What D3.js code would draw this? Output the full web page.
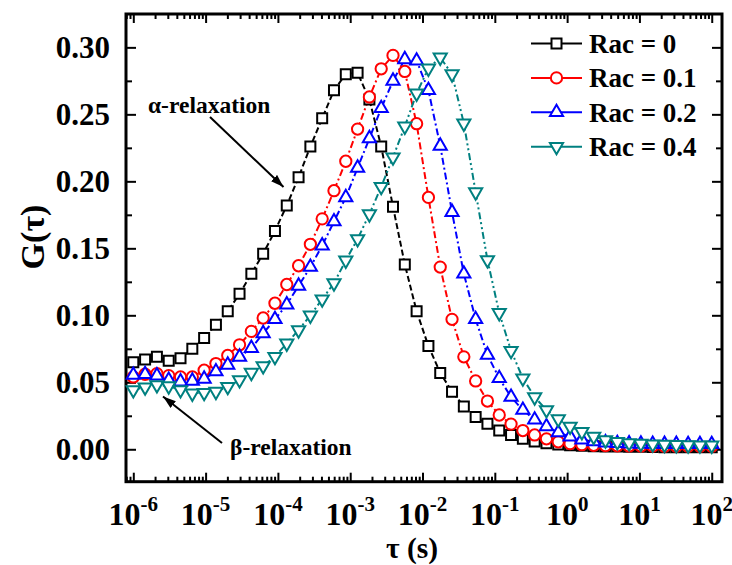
<!DOCTYPE html>
<html>
<head>
<meta charset="utf-8">
<script src="https://cdn.jsdelivr.net/npm/d3@7"></script>
<style>
  html, body { margin: 0; padding: 0; background: #fff; }
  svg { display: block; }
  text { font-family: "Liberation Serif", "Times New Roman", serif; font-weight: bold; fill: #000; }
</style>
</head>
<body>
<svg id="chart" width="732" height="565"></svg>
<script>
// ---------------- data ----------------
const tau = [1.000e-6, 1.456e-6, 2.121e-6, 3.089e-6, 4.498e-6, 6.551e-6, 9.541e-6, 1.389e-5, 2.024e-5, 2.947e-5,
             4.292e-5, 6.251e-5, 9.103e-5, 1.326e-4, 1.931e-4, 2.812e-4, 4.095e-4, 5.964e-4, 8.685e-4, 1.265e-3,
             1.842e-3, 2.683e-3, 3.907e-3, 5.690e-3, 8.286e-3, 1.207e-2, 1.758e-2, 2.560e-2, 3.728e-2, 5.429e-2,
             7.906e-2, 1.151e-1, 1.677e-1, 2.442e-1, 3.556e-1, 5.179e-1, 7.543e-1, 1.099, 1.600, 2.330,
             3.393, 4.942, 7.197, 10.48, 15.26, 22.23, 32.37, 47.15, 68.66, 100];

const gRac0 = [0.065, 0.067, 0.069, 0.066, 0.068, 0.075, 0.083, 0.093, 0.103, 0.116,
               0.131, 0.146, 0.163, 0.182, 0.203, 0.226, 0.247, 0.268, 0.280, 0.281,
               0.261, 0.226, 0.181, 0.138, 0.103, 0.077, 0.057, 0.043, 0.032, 0.024,
               0.019, 0.014, 0.0107, 0.0078, 0.0058, 0.0045, 0.0036, 0.003, 0.0026, 0.0023,
               0.0021, 0.002, 0.0019, 0.0018, 0.0017, 0.0016, 0.0016, 0.0015, 0.0015, 0.0015];

const gRac01 = [0.054, 0.056, 0.0565, 0.055, 0.054, 0.054, 0.059, 0.064, 0.070, 0.078,
                0.088, 0.098, 0.109, 0.123, 0.137, 0.153, 0.172, 0.193, 0.215, 0.239,
                0.263, 0.284, 0.294, 0.282, 0.243, 0.188, 0.136, 0.097, 0.069, 0.051,
                0.036, 0.0256, 0.0188, 0.014, 0.0107, 0.0078, 0.0056, 0.0042, 0.0034, 0.003,
                0.0027, 0.0026, 0.0025, 0.0024, 0.0024, 0.0023, 0.0023, 0.0023, 0.0022, 0.0022];

const gRac02 = [0.0554, 0.056, 0.055, 0.0517, 0.0505, 0.051, 0.0525, 0.058, 0.063, 0.069,
                0.0755, 0.0865, 0.097, 0.108, 0.122, 0.136, 0.152, 0.170, 0.188, 0.210,
                0.232, 0.2545, 0.275, 0.291, 0.290, 0.268, 0.2265, 0.177, 0.131, 0.097,
                0.0704, 0.053, 0.039, 0.0293, 0.022, 0.017, 0.0125, 0.0094, 0.0072, 0.0058,
                0.005, 0.0045, 0.0042, 0.004, 0.0039, 0.0038, 0.0038, 0.0037, 0.0037, 0.0037];

const gRac04 = [0.0443, 0.0463, 0.048, 0.0472, 0.0443, 0.0418, 0.0422, 0.043, 0.0467, 0.0517,
                0.0572, 0.0622, 0.0691, 0.0791, 0.089, 0.100, 0.112, 0.124, 0.141, 0.157,
                0.1755, 0.196, 0.218, 0.241, 0.2657, 0.2843, 0.2925, 0.280, 0.2433, 0.192,
                0.1413, 0.1018, 0.0736, 0.053, 0.039, 0.0293, 0.0225, 0.017, 0.013, 0.0095,
                0.0068, 0.0055, 0.0047, 0.0042, 0.0038, 0.0035, 0.0033, 0.0031, 0.003, 0.0029];

const seriesNames = ["Rac = 0", "Rac = 0.1", "Rac = 0.2", "Rac = 0.4"];
const yTicks = [0.00, 0.05, 0.10, 0.15, 0.20, 0.25, 0.30];
const yMinorTicks = [0.025, 0.075, 0.125, 0.175, 0.225, 0.275];
const xTickExponents = [-6, -5, -4, -3, -2, -1, 0, 1, 2];

// ---------------- layout ----------------
const W = 732, H = 565;
const L = 126, R = 722, T = 14, B = 481.7;

const svg = d3.select("#chart");
svg.append("rect").attr("width", W).attr("height", H).attr("fill", "#fff");

const x = d3.scaleLog().domain([Math.pow(10, -6.101), Math.pow(10, 2.142)]).range([L, R]);
const y = d3.scaleLinear().domain([-0.0242, 0.3249]).range([B, T]);

const styles = [
  { color: "#000000", dash: "6,3", symbol: d3.symbolSquare, size: 100, rot: 0 },
  { color: "#ff0000", dash: "7,3,2,3", symbol: d3.symbolCircle, size: 100, rot: 0 },
  { color: "#0000ff", dash: "7,3,2,3", symbol: d3.symbolTriangle, size: 75, rot: 0 },
  { color: "#008080", dash: "7,3,2,3,2,3", symbol: d3.symbolTriangle, size: 75, rot: 180 }
];
const allSeries = [gRac0, gRac01, gRac02, gRac04];

// ---------------- axes ----------------
const majorX = xTickExponents.map(e => Math.pow(10, e));
const minorX = [];
for (let k = -7; k <= 2; k++) {
  for (let m = 2; m <= 9; m++) {
    const v = m * Math.pow(10, k);
    if (v >= x.domain()[0] && v <= x.domain()[1]) minorX.push(v);
  }
}

function drawAxis(gen, tx, ty, vals, size) {
  const g = svg.append("g").attr("transform", `translate(${tx},${ty})`)
    .call(gen.tickValues(vals).tickSizeInner(size).tickSizeOuter(0).tickFormat(""));
  g.select(".domain").remove();
  g.selectAll(".tick line").attr("stroke", "#000").attr("stroke-width", 2);
  return g;
}
drawAxis(d3.axisBottom(x), 0, B, majorX, -9);
drawAxis(d3.axisBottom(x), 0, B, minorX, -5);
drawAxis(d3.axisTop(x), 0, T, majorX, -9);
drawAxis(d3.axisTop(x), 0, T, minorX, -5);
drawAxis(d3.axisLeft(y), L, 0, yTicks, -10);
drawAxis(d3.axisLeft(y), L, 0, yMinorTicks, -6);
drawAxis(d3.axisRight(y), R, 0, yTicks, -10);
drawAxis(d3.axisRight(y), R, 0, yMinorTicks, -6);

// y tick labels
const yl = svg.append("g").attr("transform", `translate(${L},0)`)
  .call(d3.axisLeft(y).tickValues(yTicks).tickSize(0).tickPadding(16).tickFormat(d3.format(".2f")));
yl.select(".domain").remove();
yl.selectAll("text").attr("font-size", 31).attr("font-family", null).attr("fill", "#000")
  .style("font-family", "'Liberation Serif','Times New Roman',serif").style("font-weight", "bold");

// x tick labels (10^n)
const xl = svg.append("g");
xTickExponents.forEach(e => {
  const t = xl.append("text").attr("x", x(Math.pow(10, e))).attr("y", 524.5)
    .attr("text-anchor", "middle").attr("font-size", 32);
  t.append("tspan").text("10");
  t.append("tspan").attr("dy", -14).attr("font-size", 21).text(e < 0 ? "-" + Math.abs(e) : String(e));
});

// frame
svg.append("rect").attr("x", L).attr("y", T).attr("width", R - L).attr("height", B - T)
  .attr("fill", "none").attr("stroke", "#000").attr("stroke-width", 3);

// ---------------- data ----------------
const plot = svg.append("g");
allSeries.forEach((vals, si) => {
  const st = styles[si];
  const pts = tau.map((t, i) => [t, vals[i]]);
  const line = d3.line().x(d => x(d[0])).y(d => y(d[1]));
  plot.append("path").attr("d", line(pts)).attr("fill", "none")
    .attr("stroke", st.color).attr("stroke-width", 2).attr("stroke-dasharray", st.dash);
});
allSeries.forEach((vals, si) => {
  const st = styles[si];
  const sym = d3.symbol().type(st.symbol).size(st.size);
  plot.append("g").selectAll("path").data(tau.map((t, i) => [t, vals[i]])).join("path")
    .attr("d", sym)
    .attr("transform", d => `translate(${x(d[0])},${y(d[1])}) rotate(${st.rot})`)
    .attr("fill", "#fff").attr("stroke", st.color).attr("stroke-width", 2);
});

// ---------------- legend ----------------
const leg = svg.append("g");
seriesNames.forEach((name, i) => {
  const st = styles[i];
  const yy = 43.5 + i * 34.4;
  leg.append("line").attr("x1", 531).attr("x2", 582).attr("y1", yy).attr("y2", yy)
    .attr("stroke", st.color).attr("stroke-width", 2);
  leg.append("path").attr("d", d3.symbol().type(st.symbol).size(st.size)())
    .attr("transform", `translate(556.5,${yy}) rotate(${st.rot})`)
    .attr("fill", "#fff").attr("stroke", st.color).attr("stroke-width", 2);
  leg.append("text").attr("x", 589).attr("y", yy + 9.5).attr("font-size", 27).text(name);
});

// ---------------- annotations ----------------
const defs = svg.append("defs");
defs.append("marker").attr("id", "ah").attr("viewBox", "0 0 12 8").attr("refX", 12).attr("refY", 4)
  .attr("markerWidth", 13).attr("markerHeight", 9).attr("markerUnits", "userSpaceOnUse")
  .attr("orient", "auto")
  .append("path").attr("d", "M0,0 L12,4 L0,8 Z").attr("fill", "#000");

svg.append("text").attr("x", 148).attr("y", 113).attr("font-size", 23.5).text("α-relaxation");
svg.append("line").attr("x1", 210).attr("y1", 117).attr("x2", 283.5).attr("y2", 187)
  .attr("stroke", "#000").attr("stroke-width", 2).attr("marker-end", "url(#ah)");

svg.append("text").attr("x", 230).attr("y", 455).attr("font-size", 23.5).text("β-relaxation");
svg.append("line").attr("x1", 222).attr("y1", 443).attr("x2", 163).attr("y2", 396.5)
  .attr("stroke", "#000").attr("stroke-width", 2).attr("marker-end", "url(#ah)");

// ---------------- axis titles ----------------
svg.append("text").attr("x", 412).attr("y", 558).attr("text-anchor", "middle")
  .attr("font-size", 29.5).text("τ (s)");
svg.append("text").attr("transform", "translate(44,237) rotate(-90)").attr("text-anchor", "middle")
  .attr("font-size", 34).text("G(τ)");
</script>
</body>
</html>
